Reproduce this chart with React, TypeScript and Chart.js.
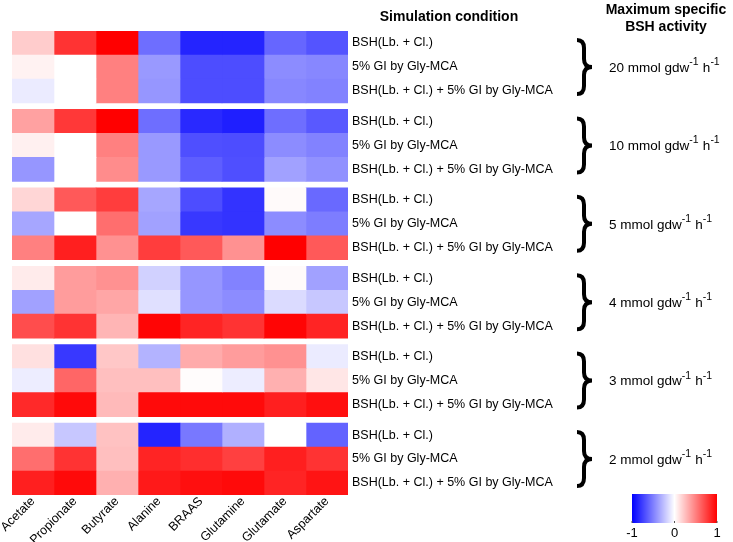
import React, { useEffect, useRef } from "react";
import { Chart, registerables } from "chart.js";

Chart.register(...registerables);

const metabolites = ["Acetate", "Propionate", "Butyrate", "Alanine", "BRAAS", "Glutamine", "Glutamate", "Aspartate"];
const conditions = ["BSH(Lb. + Cl.)", "5% GI by Gly-MCA", "BSH(Lb. + Cl.) + 5% GI by Gly-MCA"];
const activityLevels = ["20", "10", "5", "4", "3", "2"];

const bsh20: number[][] = [
  [0.2, 0.8, 1.0, -0.57, -0.86, -0.86, -0.6, -0.67],
  [0.05, 0, 0.5, -0.4, -0.7, -0.7, -0.45, -0.47],
  [-0.08, 0, 0.5, -0.41, -0.7, -0.7, -0.47, -0.49],
];
const bsh10: number[][] = [
  [0.37, 0.78, 1.0, -0.57, -0.84, -0.88, -0.57, -0.65],
  [0.06, 0, 0.5, -0.4, -0.69, -0.7, -0.45, -0.49],
  [-0.41, 0, 0.45, -0.4, -0.63, -0.69, -0.37, -0.43],
];
const bsh5: number[][] = [
  [0.16, 0.65, 0.76, -0.35, -0.7, -0.8, 0.02, -0.59],
  [-0.35, 0, 0.57, -0.37, -0.78, -0.8, -0.45, -0.51],
  [0.5, 0.88, 0.43, 0.76, 0.65, 0.43, 1.0, 0.65],
];
const bsh4: number[][] = [
  [0.08, 0.39, 0.43, -0.18, -0.41, -0.49, 0.02, -0.37],
  [-0.37, 0.39, 0.35, -0.12, -0.41, -0.45, -0.14, -0.22],
  [0.7, 0.8, 0.29, 0.98, 0.86, 0.8, 0.98, 0.86],
];
const bsh3: number[][] = [
  [0.12, -0.78, 0.22, -0.3, 0.33, 0.39, 0.43, -0.08],
  [-0.07, 0.6, 0.25, 0.25, 0.01, -0.07, 0.31, 0.1],
  [0.84, 0.96, 0.27, 0.96, 0.96, 0.96, 0.88, 0.94],
];
const bsh2: number[][] = [
  [0.08, -0.22, 0.24, -0.86, -0.53, -0.31, 0, -0.61],
  [0.57, 0.8, 0.25, 0.86, 0.82, 0.75, 0.88, 0.8],
  [0.88, 0.96, 0.31, 0.9, 0.94, 0.96, 0.86, 0.92],
];
const colorbarTicks = [-1, 0, 1];

const groups = [bsh20, bsh10, bsh5, bsh4, bsh3, bsh2];
const GAP = 0.27;
const rowPos = (g: number, r: number) => g * (3 + GAP) + r + 0.5;
const yMax = groups.length * 3 + (groups.length - 1) * GAP;

function valueColor(v: number): string {
  const t = Math.max(-1, Math.min(1, v));
  if (t >= 0) {
    const c = Math.round(255 * (1 - t));
    return `rgb(255,${c},${c})`;
  }
  const c = Math.round(255 * (1 + t));
  return `rgb(${c},${c},255)`;
}

const FONT = "'Liberation Sans', Arial, sans-serif";

const annotations = {
  id: "annotations",
  afterDraw(chart: any) {
    const ctx = chart.ctx as CanvasRenderingContext2D;
    const y = chart.scales.y;
    ctx.save();
    ctx.fillStyle = "#000";
    ctx.textBaseline = "middle";
    ctx.textAlign = "center";
    ctx.font = `bold 14px ${FONT}`;
    ctx.fillText("Simulation condition", 449, 17);
    ctx.fillText("Maximum specific", 666, 10);
    ctx.fillText("BSH activity", 666, 27);

    groups.forEach((_, g) => {
      const c = y.getPixelForValue(rowPos(g, 1));
      const x0 = 577, xm = 584, x1 = 592, h = 27;
      ctx.beginPath();
      ctx.moveTo(x0, c - h);
      ctx.quadraticCurveTo(xm, c - h, xm, c - h + 8);
      ctx.lineTo(xm, c - 8);
      ctx.quadraticCurveTo(xm, c, x1, c);
      ctx.quadraticCurveTo(xm, c, xm, c + 8);
      ctx.lineTo(xm, c + h - 8);
      ctx.quadraticCurveTo(xm, c + h, x0, c + h);
      ctx.lineWidth = 4;
      ctx.strokeStyle = "#000";
      ctx.stroke();

      ctx.textAlign = "left";
      let x = 609;
      const parts: [string, boolean][] = [
        [`${activityLevels[g]} mmol gdw`, false],
        ["-1", true],
        [" h", false],
        ["-1", true],
      ];
      for (const [txt, sup] of parts) {
        ctx.font = sup ? `10.5px ${FONT}` : `13.5px ${FONT}`;
        ctx.fillText(txt, x, sup ? c - 5 : c + 1);
        x += ctx.measureText(txt).width + (sup ? 0.5 : 0);
      }
    });

    const bx0 = 632, bx1 = 717, by0 = 494, by1 = 523;
    const grad = ctx.createLinearGradient(bx0, 0, bx1, 0);
    grad.addColorStop(0, valueColor(-1));
    grad.addColorStop(0.5, valueColor(0));
    grad.addColorStop(1, valueColor(1));
    ctx.fillStyle = grad;
    ctx.fillRect(bx0, by0, bx1 - bx0, by1 - by0);
    ctx.textAlign = "center";
    ctx.font = `13px ${FONT}`;
    colorbarTicks.forEach((t) => {
      const px = bx0 + ((t + 1) / 2) * (bx1 - bx0);
      ctx.fillStyle = "#555";
      ctx.fillRect(px - 0.5, by1 - 2, 1, 2);
      ctx.fillStyle = "#000";
      ctx.fillText(String(t), px, 533);
    });
    ctx.restore();
  },
};

export default function App() {
  const ref = useRef<HTMLCanvasElement>(null);
  useEffect(() => {
    if (!ref.current) return;
    const datasets = metabolites.map((m, ci) => {
      const data: { x: number; y: number }[] = [];
      const colors: string[] = [];
      groups.forEach((grp, g) => {
        grp.forEach((row, r) => {
          data.push({ x: 1, y: rowPos(g, r) });
          colors.push(valueColor(row[ci]));
        });
      });
      return {
        label: m,
        data,
        backgroundColor: colors,
        borderWidth: 0,
        categoryPercentage: 1,
        barPercentage: 1,
      };
    });

    const chart = new Chart(ref.current, {
      type: "bar",
      data: { datasets } as any,
      plugins: [annotations],
      options: {
        animation: false,
        responsive: false,
        indexAxis: "y",
        layout: { padding: { left: 12, top: 31, right: 0, bottom: 0 } },
        plugins: { legend: { display: false }, tooltip: { enabled: false } },
        scales: {
          x: {
            type: "linear",
            stacked: true,
            offset: false,
            min: 0,
            max: metabolites.length,
            position: "bottom",
            grid: { display: false, drawTicks: false },
            border: { display: false },
            afterBuildTicks: (s: any) => {
              s.ticks = metabolites.map((_, i) => ({ value: i + 0.5 }));
            },
            afterFit: (s: any) => {
              s.height = 542 - 495;
              s.paddingLeft = 0;
              s.paddingRight = 0;
            },
            ticks: {
              autoSkip: false,
              minRotation: 45,
              maxRotation: 45,
              padding: -1,
              labelOffset: 0,
              color: "#000",
              font: { family: FONT, size: 12.5 },
              callback: (_v: any, i: number) => metabolites[i],
            },
          },
          y: {
            type: "linear",
            stacked: true,
            offset: false,
            reverse: true,
            min: 0,
            max: yMax,
            position: "right",
            grid: { display: false, drawTicks: false },
            border: { display: false },
            afterBuildTicks: (s: any) => {
              const t: { value: number }[] = [];
              groups.forEach((grp, g) => grp.forEach((_, r) => t.push({ value: rowPos(g, r) })));
              s.ticks = t;
            },
            afterFit: (s: any) => {
              s.width = 733 - 348;
              s.paddingTop = 0;
              s.paddingBottom = 0;
            },
            ticks: {
              autoSkip: false,
              padding: 4,
              color: "#000",
              font: { family: FONT, size: 12.5 },
              callback: (_v: any, i: number) => conditions[i % 3],
            },
          },
        },
      } as any,
    });
    return () => chart.destroy();
  }, []);

  return (
    <div style={{ position: "fixed", left: 0, top: 0, width: 733, height: 542, background: "#fff" }}>
      <canvas ref={ref} width={733} height={542} style={{ width: 733, height: 542, display: "block" }} />
    </div>
  );
}
